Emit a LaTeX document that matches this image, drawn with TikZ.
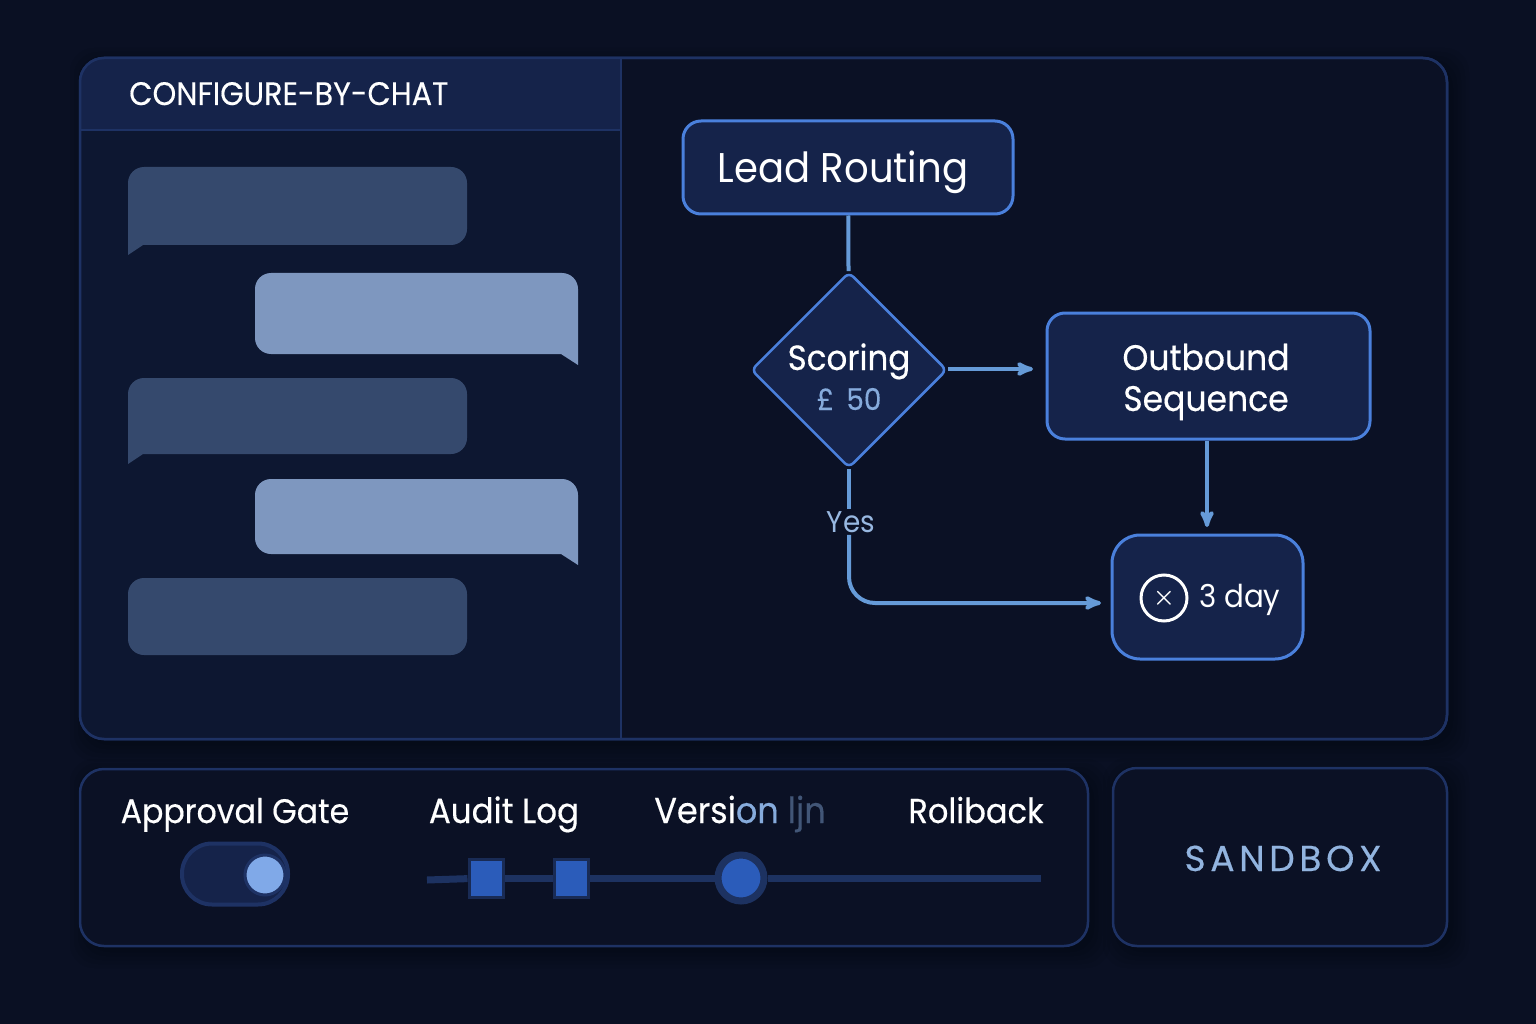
\documentclass[tikz,border=0pt]{standalone}
\usepackage{fontspec}
\setmainfont[FakeStretch=0.93]{Poppins}
\newfontfamily\medfont[FakeStretch=0.93,FakeBold=0.35]{Poppins}
\newfontfamily\spacedfont[LetterSpace=13,FakeBold=0.4]{Poppins}
\usetikzlibrary{calc,arrows,shapes.geometric}

\definecolor{pagebg}{HTML}{0A1023}
\definecolor{panelbg}{HTML}{0B1125}
\definecolor{chatbg}{HTML}{0D1731}
\definecolor{headbg}{HTML}{15234A}
\definecolor{panelline}{HTML}{1E3264}
\definecolor{boxbg}{HTML}{15234A}
\definecolor{boxline}{HTML}{4A80DC}
\definecolor{wire}{HTML}{669BD8}
\definecolor{softblue}{HTML}{86ABDC}
\definecolor{bubbleA}{HTML}{35496D}
\definecolor{bubbleB}{HTML}{7E97BF}
\definecolor{trackc}{HTML}{1D3261}
\definecolor{markc}{HTML}{2B5CBA}
\definecolor{knobc}{HTML}{80A9E8}

\begin{document}
\begin{tikzpicture}[x=1pt,y=-1pt]
 \tikzstyle{arrow} = [->,>=stealth',draw=wire,line width=4pt,shorten >=1pt];
 \tikzstyle{wireline} = [draw=wire,line width=4pt];
 \tikzstyle{panel} = [draw=panelline,line width=2.5pt,fill=panelbg];
 \tikzstyle{flowbox} = [rectangle,draw=boxline,line width=3pt,fill=boxbg,rounded corners=18pt,
                        text=white,align=center,inner sep=0pt];
 \tikzstyle{label} = [text=white,inner sep=0pt,anchor=base];
 \tikzstyle{marker} = [rectangle,fill=markc,draw=trackc!80!panelbg,line width=3pt,minimum width=34pt,minimum height=38pt];
 \tikzstyle{glow} = [fill=black,opacity=0.05,rounded corners=24pt];

 %% background
 \useasboundingbox[fill=pagebg] (0,0) rectangle (1536,1024);

 %% shadows
 \foreach \xa/\ya/\xb/\yb in {80/58/1447/739,80/769/1088/946,1113/768/1447/946,683/121/1013/214,1047/313/1370/439,1112/535/1303/659}
   \foreach \g in {0,4,...,16}
     \fill[glow] (\xa-\g+6,\ya-\g+6) rectangle (\xb+\g+6,\yb+\g+6);

 %% main panel
 \path[panel] [rounded corners=24pt] (80,58) rectangle (1447,739);
 \begin{scope}
   \clip[rounded corners=24pt] (80,58) rectangle (1447,739);
   \fill[chatbg] (80,58) rectangle (621,739);
   \fill[headbg] (80,58) rectangle (621,130);
   \draw[panelline,line width=1.5pt] (80,130) -- (621,130);
   \draw[panelline,line width=1.5pt] (621,58) -- (621,739);
 \end{scope}
 \draw[panelline,line width=2.5pt,rounded corners=24pt] (80,58) rectangle (1447,739);
 \node[label,font=\fontsize{32.5}{32.5}\medfont,anchor=base west,name=chathead] at (129,105) {CONFIGURE-BY-CHAT};

 %% chat bubbles
 \foreach \t/\b in {167/245,378/454}
   \fill[bubbleA] (128,\b+10) -- (143,\b) [rounded corners=16pt] -- (467,\b) -- (467,\t) -- (128,\t) [sharp corners] -- cycle;
 \foreach \t/\b in {273/354,479/554}
   \fill[bubbleB] (578,\b+11) -- (561,\b) [rounded corners=16pt] -- (255,\b) -- (255,\t) -- (578,\t) [sharp corners] -- cycle;
 \fill[bubbleA,rounded corners=16pt] (128,578) rectangle (467,655);

 %% flow
 \node[flowbox,name=routing,minimum width=330pt,minimum height=93pt] at (848,167.5) {};
 \node[label,font=\fontsize{41.5}{41.5}\selectfont,name=routingtxt] at (843,183) {Lead Routing};
 \node[diamond,draw=boxline,line width=2.5pt,fill=boxbg,rounded corners=6pt,minimum width=196pt,minimum height=196pt,
       inner sep=0pt,name=scoring] at (849,370) {};
 \node[label,font=\fontsize{35}{35}\medfont,name=scoringtxt] at (849,370) {Scoring};
 \node[label,text=softblue,font=\fontsize{30}{30}\medfont,name=scoringval] at (849,410) {£\, 50};
 \node[flowbox,name=outbound,minimum width=323pt,minimum height=126pt] at (1208.5,376) {};
 \node[label,font=\fontsize{35.5}{35.5}\medfont,name=outboundtxt] at (1206,370) {Outbound};
 \node[label,font=\fontsize{35.5}{35.5}\medfont,name=sequencetxt] at (1206,411) {Sequence};
 \node[flowbox,name=daybox,rounded corners=28pt,minimum width=191pt,minimum height=124pt] at (1207.5,597) {};
 \node[circle,draw=white,line width=3pt,text=white,minimum size=46pt,inner sep=0pt,font=\fontsize{36}{36}\selectfont\boldmath,name=dayicon] at (1164,598) {$\times$};
 \node[label,font=\fontsize{31.5}{31.5}\selectfont,anchor=base west,name=daytxt] at (1199,607) {3 day};
 \node[text=softblue!85!white,font=\fontsize{30}{30}\selectfont,inner sep=2pt,name=yes] at (851,522) {Yes};
 \coordinate (dayin) at (1112,603);
 \coordinate (outin) at (1047,369);

 \path (routing) edge [wireline] (scoring);
 \draw[arrow,shorten >=14pt] (scoring.east |- outin) -- (outin);
 \draw[arrow,shorten >=8pt] (outbound.south -| 1207,0) -- (1207,535);
 \draw[wireline] (scoring.south) -- (yes.north -| scoring.south);
 \draw[arrow,shorten >=11pt,rounded corners=26pt] (yes.south -| scoring.south) |- (dayin);

 %% bottom panel
 \path[panel] [rounded corners=24pt] (80,769) rectangle (1088,946);
 \node[label,font=\fontsize{34}{34}\medfont,name=approval] at (235,823) {Approval Gate};
 \node[label,font=\fontsize{35}{35}\medfont,name=audit] at (504,823) {Audit Log};
 \node[label,font=\fontsize{36}{36}\medfont,name=version] at (740,823) {Versi\textcolor{softblue}{on} {\fontsize{36}{36}\selectfont\textcolor{softblue!45!panelbg}{ljn}}};
 \node[label,font=\fontsize{34.5}{34.5}\medfont,name=rollback] at (976,823) {Roliback};

 %% toggle
 \node[rectangle,draw=panelline,line width=4pt,fill=boxbg,rounded corners=30pt,minimum width=106pt,minimum height=61pt,name=toggle] at (235,874) {};
 \node[circle,draw=panelline,line width=3pt,fill=knobc,minimum size=40pt,inner sep=0pt,name=knob] at (265,875) {};

 %% version track
 \coordinate (trackstart) at (427,880);
 \coordinate (trackend) at (1041,878);
 \node[marker,name=mark1] at (486,878) {};
 \node[marker,name=mark2] at (571,878) {};
 \node[circle,fill=markc,draw=trackc,line width=7pt,minimum size=46pt,inner sep=0pt,name=mark3] at (741,878) {};
 \draw[trackc,line width=7pt] (trackstart) -- (mark1);
 \draw[trackc,line width=7pt] (mark1) -- (mark2);
 \draw[trackc,line width=7pt] (mark2) -- (mark3);
 \draw[trackc,line width=7pt] (mark3) -- (trackend);

 %% sandbox
 \node[rectangle,draw=panelline,line width=2.5pt,fill=panelbg,rounded corners=24pt,minimum width=334pt,minimum height=178pt,name=sandbox] at (1280,857) {};
 \node[label,text=softblue!90!white,font=\fontsize{36}{36}\spacedfont,name=sandboxtxt] at (1283,871) {SANDBOX};
\end{tikzpicture}
\end{document}
